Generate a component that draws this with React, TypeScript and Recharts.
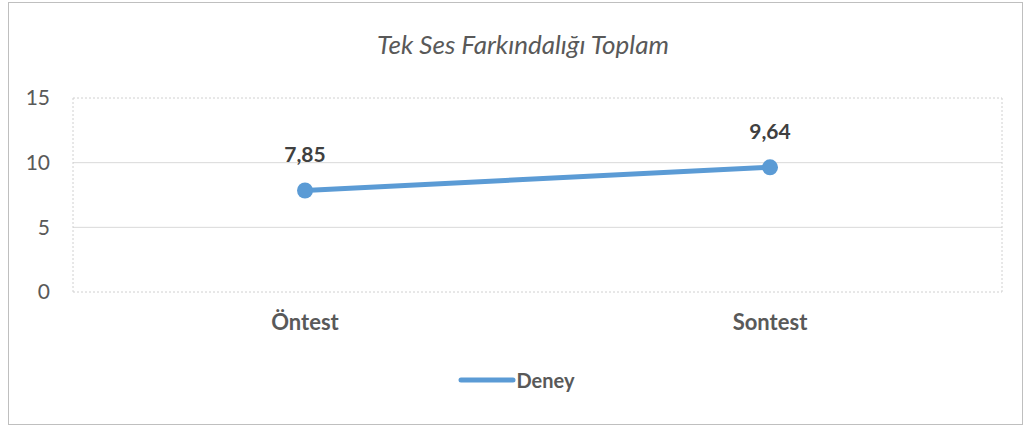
import { CartesianGrid, LabelList, Legend, Line, LineChart, XAxis, YAxis } from 'recharts';

const categories = ['Öntest', 'Sontest'];
const deneyValues = [7.85, 9.64];
const yTicks = [0, 5, 10, 15];

const BLUE = '#5B9BD5';
const FONT = 'Lato, "Open Sans", sans-serif';

const data = categories.map((name, i) => ({ name, deney: deneyValues[i] }));

function LegendContent() {
  return (
    <div style={{ display: 'flex', justifyContent: 'center', alignItems: 'center', fontFamily: FONT }}>
      <svg width={58} height={10}>
        <line x1={3} y1={5} x2={55} y2={5} stroke={BLUE} strokeWidth={5} strokeLinecap="round" />
      </svg>
      <span style={{ fontSize: 20, fontWeight: 700, color: '#595959', marginLeft: 1 }}>Deney</span>
    </div>
  );
}

export default function App() {
  return (
    <div style={{ position: 'absolute', left: 0, top: 0, width: 1032, height: 427, background: '#fff' }}>
      <div
        style={{
          position: 'absolute',
          left: 8,
          top: 2,
          width: 1013,
          height: 421,
          border: '1px solid #BFBFBF',
        }}
      />
      <div
        style={{
          position: 'absolute',
          left: 273,
          width: 500,
          top: 28,
          textAlign: 'center',
          fontFamily: FONT,
          fontStyle: 'italic',
          fontSize: 26,
          color: '#595959',
        }}
      >
        Tek Ses Farkındalığı Toplam
      </div>
      <div style={{ position: 'absolute', left: 0, top: 0 }}>
        <LineChart width={1032} height={427} data={data} margin={{ top: 98, right: 30, left: 0, bottom: 0 }}>
          <CartesianGrid vertical={false} stroke="#D9D9D9" horizontalValues={[5, 10]} />
          <CartesianGrid
            stroke="#D0D0D0"
            strokeDasharray="2 2"
            horizontalPoints={[98, 292]}
            verticalPoints={[73, 1002]}
          />
          <XAxis
            dataKey="name"
            height={111}
            padding={{ left: 232, right: 232 }}
            axisLine={false}
            tickLine={false}
            tickSize={0}
            tickMargin={22}
            tick={{ fontSize: 22, fontWeight: 700, fill: '#595959', fontFamily: FONT }}
          />
          <YAxis
            width={73}
            domain={[0, 15]}
            ticks={yTicks}
            axisLine={false}
            tickLine={false}
            tickSize={0}
            tickMargin={23}
            tick={{ fontSize: 21, fill: '#595959', fontFamily: FONT }}
          />
          <Legend
            content={<LegendContent />}
            wrapperStyle={{ position: 'absolute', top: 368, left: 0, width: 1032, height: 24 }}
          />
          <Line
            type="linear"
            dataKey="deney"
            name="Deney"
            stroke={BLUE}
            strokeWidth={5}
            dot={{ r: 8, fill: BLUE, stroke: BLUE, strokeWidth: 0 }}
            activeDot={false}
            isAnimationActive={false}
          >
            <LabelList
              dataKey="deney"
              position="top"
              offset={28}
              formatter={(v: number) => v.toFixed(2).replace('.', ',')}
              style={{ fontSize: 21, fontWeight: 700, fill: '#404040', fontFamily: FONT }}
            />
          </Line>
        </LineChart>
      </div>
    </div>
  );
}
